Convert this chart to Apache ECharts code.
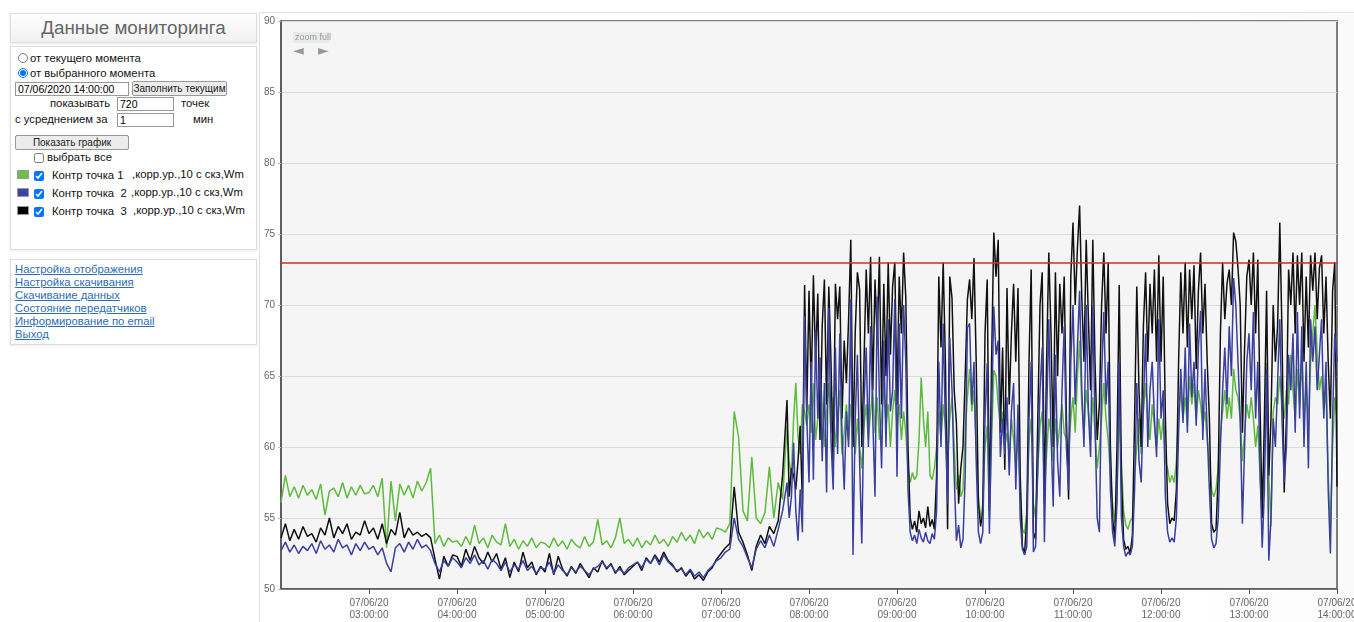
<!DOCTYPE html>
<html>
<head>
<meta charset="utf-8">
<script src="https://cdn.jsdelivr.net/npm/echarts@6/dist/echarts.min.js"></script>
<style>
html,body{margin:0;padding:0;background:#fff;font-family:Arial,"Liberation Sans",sans-serif;overflow:hidden;width:1354px;height:622px;}
.box{position:absolute;border:1px solid #dcdcdc;box-shadow:0 1px 3px rgba(0,0,0,0.08);background:#fff;box-sizing:border-box;}
.t{position:absolute;font-size:11.3px;color:#111;white-space:nowrap;line-height:14px;}
input[type=text]{position:absolute;font-size:10.5px;font-family:Arial,"Liberation Sans",sans-serif;padding:0 2px;border:1px solid #999;height:14px;box-sizing:border-box;}
button{position:absolute;font-size:10px;font-family:Arial,"Liberation Sans",sans-serif;padding:0;height:15px;border:1px solid #999;border-radius:2px;background:#ececec;color:#222;white-space:nowrap;overflow:hidden;}
input[type=checkbox],input[type=radio]{position:absolute;margin:0;width:10px;height:10px;}
.sw{position:absolute;width:10px;height:7px;border:1px solid #999;}
a{position:absolute;font-size:11.3px;color:#2e6db4;text-decoration:underline;white-space:nowrap;line-height:13px;}
</style>
</head>
<body>
<div class="box" style="left:10px;top:13px;width:247px;height:30px;background:linear-gradient(#fff,#f1f1f1);">
  <div style="position:absolute;left:0;width:100%;top:3px;text-align:center;font-size:18.8px;color:#666;">Данные мониторинга</div>
</div>
<div class="box" style="left:10px;top:46px;width:247px;height:204px;">
  <input type="radio" style="left:7px;top:6px;"><div class="t" style="left:19px;top:4px;">от текущего момента</div>
  <input type="radio" checked style="left:7px;top:21px;"><div class="t" style="left:19px;top:19px;">от выбранного момента</div>
  <input type="text" value="07/06/2020 14:00:00" style="left:4px;top:35px;width:114px;">
  <button style="left:121px;top:34px;width:95px;">Заполнить текущим</button>
  <div class="t" style="left:39px;top:49px;">показывать</div>
  <input type="text" value="720" style="left:106px;top:50px;width:57px;">
  <div class="t" style="left:170px;top:49px;">точек</div>
  <div class="t" style="left:4px;top:65px;">с усреднением за</div>
  <input type="text" value="1" style="left:106px;top:66px;width:57px;">
  <div class="t" style="left:182px;top:65px;">мин</div>
  <button style="left:4px;top:88px;width:114px;">Показать график</button>
  <input type="checkbox" style="left:23px;top:106px;"><div class="t" style="left:36px;top:103px;">выбрать все</div>
  <div class="sw" style="left:6px;top:123px;background:#6cc04a;"></div>
  <input type="checkbox" checked style="left:23px;top:124px;"><div class="t" style="left:41px;top:121px;">Контр точка 1</div><div class="t" style="left:121px;top:120px;">,корр.ур.,10 с скз,Wm</div>
  <div class="sw" style="left:6px;top:141px;background:#3c43a0;"></div>
  <input type="checkbox" checked style="left:23px;top:142px;"><div class="t" style="left:41px;top:139px;">Контр точка&nbsp; 2</div><div class="t" style="left:120px;top:138px;">,корр.ур.,10 с скз,Wm</div>
  <div class="sw" style="left:6px;top:159px;background:#000;"></div>
  <input type="checkbox" checked style="left:23px;top:160px;"><div class="t" style="left:41px;top:157px;">Контр точка&nbsp; 3</div><div class="t" style="left:122px;top:156px;">,корр.ур.,10 с скз,Wm</div>
</div>
<div class="box" style="left:10px;top:259px;width:247px;height:86px;">
  <a style="left:4px;top:3px;">Настройка отображения</a>
  <a style="left:4px;top:16px;">Настройка скачивания</a>
  <a style="left:4px;top:29px;">Скачивание данных</a>
  <a style="left:4px;top:42px;">Состояние передатчиков</a>
  <a style="left:4px;top:55px;">Информирование по email</a>
  <a style="left:4px;top:68px;">Выход</a>
</div>
<div style="position:absolute;left:259px;top:12px;width:1095px;height:610px;border-left:1px solid #e0e0e0;border-top:1px solid #e0e0e0;box-sizing:border-box;background:linear-gradient(90deg,#fff 85%,#fafafa);"></div>
<div id="chart" style="position:absolute;left:260px;top:0;width:1094px;height:622px;"></div>
<script>
// Time in minutes since 07/06/20 02:00; x axis runs 02:00 .. 14:00
const X_MIN = 0, X_MAX = 720, X_TICK = 60, START_HOUR = 2;
const EARLY_STEP = 3;            // 02:00 .. 07:45, every 3 min
const LATE_START = 346.5, LATE_STEP = 1.5;  // 07:46.5 .. 14:00, every 1.5 min
const yTicks = [50, 55, 60, 65, 70, 75, 80, 85, 90];
const limitValue = 73;
const seriesNames = ['Контр точка 1', 'Контр точка 3', 'Контр точка 2'];

const greenEarly = [
56.1,58.0,56.5,57.2,56.4,57.3,56.6,57.0,56.3,57.4,55.2,56.9,57.1,56.5,57.5,56.4,57.2,56.6,57.3,56.7,
56.8,57.3,56.5,57.8,52.9,57.6,54.8,57.4,56.6,57.3,56.4,57.6,56.9,57.5,58.5,53.2,53.8,53.0,53.6,53.3,
53.4,53.0,53.7,53.1,54.5,53.2,53.6,52.9,53.8,53.3,53.1,54.6,53.0,53.5,52.8,53.4,53.0,53.6,52.9,53.3,
53.2,52.9,53.6,53.0,53.4,52.8,53.5,53.1,52.9,53.7,53.0,53.3,54.9,53.1,53.4,52.9,53.6,55.0,53.2,53.5,
53.0,53.6,52.9,53.4,53.1,53.8,53.2,53.5,53.0,53.7,53.3,54.0,53.4,53.8,53.2,54.2,53.6,54.0,53.5,54.3,
54.2,54.0,54.6,62.5,60.7,55.5,54.8,59.3,55.0,54.6,55.4,58.6,55.0,57.5,56.3,61.5
];
const blackEarly = [
53.6,54.6,53.4,54.2,53.5,54.4,53.7,53.9,53.3,54.3,53.8,55.0,53.6,54.4,53.9,54.6,53.5,54.0,53.8,54.8,
53.9,54.3,53.5,54.6,53.2,54.2,53.8,55.4,53.6,54.3,53.8,54.0,53.7,53.9,53.6,52.1,50.7,52.3,51.6,52.4,
52.3,51.6,52.8,52.0,53.0,52.2,51.8,52.6,51.9,52.5,51.4,52.2,50.8,51.9,51.2,52.6,51.5,51.9,51.0,51.6,
51.2,52.5,51.0,52.3,51.4,50.9,51.6,51.1,51.8,51.3,50.8,51.5,51.2,52.0,51.4,51.8,51.1,51.6,51.0,51.3,
51.6,51.9,51.3,52.2,51.8,52.4,51.9,52.6,52.0,51.7,51.2,51.5,50.9,51.3,50.7,51.0,50.6,51.2,51.5,52.1,
52.5,52.9,53.2,57.2,54.0,53.3,52.4,51.3,53.0,53.8,53.2,54.4,53.9,54.8,58.0,63.3
];
const blueEarly = [
52.7,53.3,52.6,53.1,52.5,53.0,52.7,53.2,52.5,53.4,52.8,53.1,52.6,53.5,52.9,53.1,52.4,53.2,52.7,53.3,
52.8,53.0,52.4,52.9,51.8,51.2,52.9,53.2,52.6,53.3,52.8,53.5,52.9,53.1,52.7,51.8,51.2,52.0,51.6,52.2,
51.9,51.5,52.2,51.8,52.4,51.7,52.0,51.4,52.1,51.8,51.3,51.9,51.2,51.7,51.4,52.0,51.3,51.6,51.1,51.5,
51.4,51.9,51.1,51.7,51.3,51.0,51.5,51.2,51.6,51.3,51.0,51.4,51.6,51.9,51.5,51.7,51.2,51.4,51.1,51.5,
51.7,51.9,51.5,52.1,51.8,52.3,51.7,52.4,51.9,51.6,51.3,51.4,51.0,51.4,50.9,51.2,50.8,51.3,51.6,52.0,
52.2,52.6,52.8,55.0,53.5,53.0,52.2,51.5,52.8,53.4,52.9,53.8,53.0,54.2,55.5,57.5
];

const greenLate = [
59.0,58.0,62.0,64.5,60.8,59.5,63.0,62.5,61.5,63.0,
61.0,64.5,60.5,62.0,65.5,63.0,60.0,62.5,64.5,61.0,
63.5,60.0,62.0,64.0,59.5,61.0,63.0,60.5,63.0,61.0,
59.5,62.0,60.0,58.5,61.5,63.0,60.5,62.5,64.0,61.0,
63.5,60.5,62.0,64.5,61.5,63.0,60.0,62.5,64.0,61.5,
63.0,60.5,62.5,61.0,58.4,57.5,58.2,57.7,58.0,60.5,
64.9,62.0,60.0,62.5,58.0,57.7,58.5,60.0,62.5,60.5,
63.0,61.5,59.0,62.0,63.5,60.0,57.0,58.0,56.5,57.0,
61.0,63.5,65.5,62.5,64.0,60.0,56.5,55.0,56.0,60.0,
61.5,55.0,60.5,65.4,65.0,63.0,61.5,62.5,60.0,61.0,
59.5,62.0,60.5,58.5,61.0,57.0,54.2,53.9,55.5,60.5,
62.0,56.0,55.0,58.5,61.5,62.5,57.0,59.5,62.0,61.0,
59.0,62.0,60.0,61.5,63.0,61.0,60.5,59.5,62.0,63.5,
61.0,65.0,67.5,63.0,61.0,64.0,62.5,60.5,63.5,61.0,
58.5,60.0,62.0,64.5,62.0,60.5,58.0,56.0,54.6,57.0,
62.5,59.0,55.5,54.5,54.2,54.8,55.0,58.0,60.0,62.0,
59.5,62.5,64.5,62.0,60.5,63.0,61.5,60.0,62.0,60.5,
62.0,59.0,58.5,57.5,58.0,57.5,59.0,62.5,64.0,62.0,
63.5,61.5,65.0,63.0,64.5,62.0,64.0,63.0,61.5,62.5,
60.5,59.0,57.0,56.5,57.0,58.5,61.0,62.5,64.0,62.0,
63.5,62.0,65.5,64.0,63.5,62.0,59.0,61.0,63.0,62.0,
63.5,62.0,60.0,61.5,58.0,55.0,60.0,65.9,58.0,54.4,
62.5,63.5,63.0,65.0,63.0,62.0,64.0,63.0,66.5,64.0,
62.0,65.5,63.0,66.0,62.0,64.5,61.5,66.0,68.0,70.0,
66.5,64.0,65.0,62.5,64.0,58.0,54.2,60.0,63.5,62.0
];
const blackLate = [
56.5,58.5,58.0,57.0,59.0,61.5,56.0,71.4,62.5,71.0,
64.0,72.1,66.0,70.8,60.5,68.5,71.8,63.0,71.3,66.0,
58.4,71.5,69.0,71.3,62.0,67.5,64.5,69.0,74.6,60.0,
68.0,72.3,71.1,60.0,66.0,72.5,68.0,73.4,64.0,71.8,
67.5,73.4,63.0,71.5,65.0,73.0,66.5,71.3,73.0,63.0,
72.0,68.0,73.7,70.5,60.0,55.0,54.2,54.8,54.0,55.5,
54.6,55.0,54.3,55.8,54.4,54.9,54.2,58.0,72.0,67.0,
73.0,66.0,54.2,72.0,70.5,64.0,61.7,56.0,58.5,60.0,
65.0,70.4,71.8,69.0,73.3,66.0,56.0,54.4,55.5,68.0,
71.8,55.5,66.0,75.1,72.0,74.6,61.0,67.0,58.4,71.2,
63.0,68.0,71.5,66.0,71.2,58.0,53.0,52.5,55.0,66.0,
72.5,54.0,53.5,62.0,70.0,72.3,56.0,66.0,73.7,68.0,
60.0,72.3,65.0,71.5,68.0,72.0,62.0,56.3,72.0,75.8,
70.0,74.0,77.0,70.5,66.0,74.6,69.0,64.0,74.6,66.0,
60.5,63.0,70.0,73.7,68.0,73.0,60.0,55.0,53.5,60.0,
71.4,58.0,53.5,52.8,53.0,52.5,53.8,62.0,71.3,64.0,
60.0,68.5,72.3,66.0,71.5,68.0,72.5,66.0,73.5,66.0,
72.0,62.0,56.0,54.6,55.0,54.8,57.0,66.0,72.3,68.0,
73.0,67.0,72.5,69.0,72.8,65.5,71.0,73.7,68.0,71.5,
66.0,62.0,54.6,54.0,54.2,58.0,68.0,73.0,69.0,71.5,
72.5,70.0,75.1,74.5,72.6,70.0,61.0,67.0,72.0,73.2,
70.0,73.7,68.0,73.2,63.0,55.0,62.0,71.0,58.0,62.0,
70.0,66.0,68.5,75.8,68.0,56.8,62.0,72.5,70.0,73.7,
68.0,73.5,70.0,73.7,66.0,72.0,67.0,73.5,71.0,73.7,
69.0,72.6,73.5,68.0,72.0,66.0,62.0,71.0,73.0,57.2
];
const blueLate = [
55.0,56.5,60.3,55.5,53.4,57.0,54.0,69.2,62.0,57.5,
66.0,57.7,68.2,62.0,66.3,59.0,64.5,56.8,69.8,60.5,
57.0,67.0,59.5,68.0,61.0,57.0,62.5,60.0,70.4,52.4,
62.0,66.5,59.0,53.2,63.0,67.0,60.0,68.5,62.0,56.5,
70.6,63.5,58.5,67.5,60.0,69.0,62.5,64.0,70.4,57.9,
68.7,62.0,70.0,66.0,57.0,54.0,53.4,53.8,53.2,54.2,
53.6,53.3,54.0,53.4,53.2,53.9,53.5,55.5,66.0,60.0,
68.7,61.5,56.0,67.7,64.0,58.0,53.4,54.5,52.9,53.5,
58.0,68.4,68.7,63.0,66.0,59.0,54.0,53.2,54.0,62.0,
65.9,53.9,62.0,69.9,66.5,67.5,59.3,62.0,59.5,63.5,
58.0,62.5,64.5,57.0,63.0,55.0,52.8,52.4,53.0,62.0,
66.0,52.6,53.0,58.5,64.0,67.0,53.3,62.0,69.0,61.0,
55.8,66.5,59.0,56.5,64.0,68.5,60.0,57.0,66.0,70.0,
63.0,67.0,71.0,64.0,60.0,70.0,62.5,59.3,69.9,61.7,
55.0,54.0,65.0,69.5,63.0,66.0,57.0,54.0,53.0,56.0,
66.0,55.0,53.0,52.3,52.6,52.4,53.0,57.0,64.5,59.0,
57.5,63.0,68.0,60.0,64.0,66.0,62.0,59.3,69.0,62.0,
64.0,56.5,54.0,53.3,53.6,53.3,55.0,61.0,65.5,61.7,
67.0,61.0,68.7,63.5,66.0,61.5,67.0,69.6,60.5,65.5,
61.0,57.0,53.5,52.9,53.2,55.0,60.0,64.0,67.0,63.0,
68.5,65.0,71.9,70.0,66.0,62.0,54.6,60.0,66.0,68.0,
64.0,69.5,62.0,66.0,58.5,52.9,57.0,65.5,52.0,55.0,
62.0,60.0,64.5,69.0,62.0,57.5,60.0,66.5,64.0,68.0,
61.0,69.5,62.0,68.5,60.0,66.0,58.5,69.0,66.0,68.5,
64.0,66.5,69.0,62.0,66.0,57.0,52.5,62.0,68.0,66.0
];

const toPairs = (early, late) =>
  early.map((v, i) => [i * EARLY_STEP, v]).concat(late.map((v, j) => [LATE_START + j * LATE_STEP, v]));
const pad = n => (n < 10 ? '0' : '') + n;

const chart = echarts.init(document.getElementById('chart'), null, { width: 1094, height: 622 });
const lineSeries = (name, data, color) => ({
  name, type: 'line', data, symbol: 'none', animation: false,
  lineStyle: { color, width: 1.5 }, itemStyle: { color }
});
const sBlue = lineSeries(seriesNames[2], toPairs(blueEarly, blueLate), '#3b3f9e');
sBlue.markLine = {
  silent: true, symbol: 'none', label: { show: false },
  lineStyle: { color: '#d42a2a', width: 1.5, type: 'solid' },
  data: [{ yAxis: limitValue }]
};
chart.setOption({
  animation: false,
  grid: { left: 21, top: 21, width: 1056, height: 568, containLabel: false, outerBoundsMode: 'none',
          show: true, backgroundColor: '#f4f5f4', borderColor: '#555', borderWidth: 1.5 },
  xAxis: {
    type: 'value', min: X_MIN, max: X_MAX, interval: X_TICK,
    axisLine: { lineStyle: { color: '#555', width: 1.5 } },
    axisTick: { length: 5, lineStyle: { color: '#555' } },
    axisLabel: {
      showMinLabel: false, showMaxLabel: true, hideOverlap: false,
      color: '#666', fontSize: 10, lineHeight: 12, margin: 8, fontFamily: 'Arial',
      formatter: v => '07/06/20\n' + pad(START_HOUR + Math.round(v / 60)) + ':00:00'
    },
    splitLine: { show: false }
  },
  yAxis: {
    type: 'value', min: yTicks[0], max: yTicks[yTicks.length - 1], interval: yTicks[1] - yTicks[0],
    axisLine: { show: true, lineStyle: { color: '#555', width: 1.5 } },
    axisTick: { show: true, length: 3, lineStyle: { color: '#bbb' } },
    axisLabel: { color: '#666', fontSize: 10, margin: 6, fontFamily: 'Arial' },
    splitLine: { lineStyle: { color: '#dcdcdc', width: 1 } }
  },
  graphic: [
    { type: 'rect', left: 33, top: 32, shape: { width: 36, height: 11 }, style: { fill: '#e9eaea' } },
    { type: 'text', left: 35, top: 33, style: { text: 'zoom full', fill: '#999', font: '9px Arial' } },
    { type: 'text', left: 33, top: 44, style: { text: '◄', fill: '#999', font: '14px DejaVu Sans' } },
    { type: 'text', left: 58, top: 44, style: { text: '►', fill: '#999', font: '14px DejaVu Sans' } }
  ],
  series: [
    lineSeries(seriesNames[0], toPairs(greenEarly, greenLate), '#5fbb3e'),
    lineSeries(seriesNames[1], toPairs(blackEarly, blackLate), '#111111'),
    sBlue
  ]
});
</script>
</body>
</html>
